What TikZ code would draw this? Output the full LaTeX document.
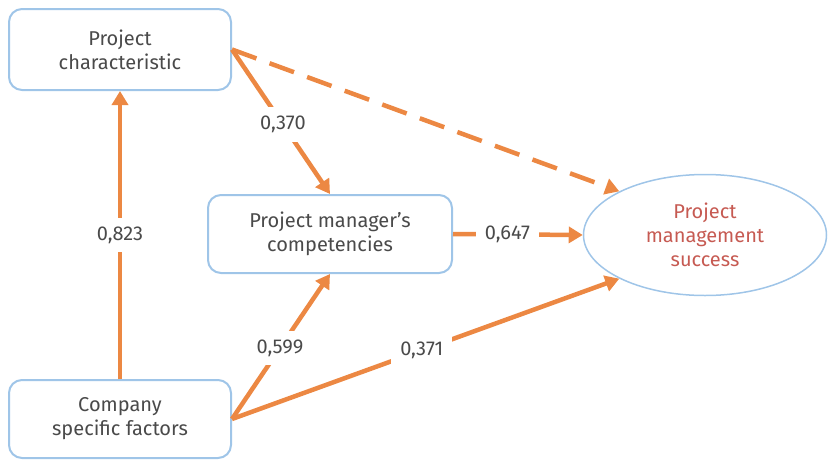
\documentclass[tikz,border=0pt]{standalone}
\usepackage{fontspec}
\setmainfont{Fira Sans}
\usetikzlibrary{arrows.meta,shapes.geometric}
\definecolor{linkorange}{HTML}{EC8843}
\definecolor{boxblue}{HTML}{9FC5E8}
\definecolor{txtgray}{HTML}{4A4A4A}
\definecolor{txtred}{HTML}{C65A52}
\tikzset{box/.style = {draw=boxblue, line width=2pt, rounded corners=13pt, fill=white,
                       align=center, text=txtgray, font=\fontsize{20}{24}\selectfont}}
\tikzset{link/.style = {draw=linkorange, line width=4.5pt, -{Triangle[length=14pt,width=16pt]}}}
\tikzset{lbl/.style = {fill=white, inner sep=9pt, text=txtgray, font=\fontsize{20}{24}\selectfont}}

\begin{document}
\begin{tikzpicture}[x=1pt,y=-1pt]
                    \useasboundingbox (0,0) rectangle (828,461);
                    \node[box, minimum width=222pt, minimum height=81pt] (pc) at (120,49.5) {Project\\characteristic};
                    \node[box, minimum width=244pt, minimum height=78pt] (pmc) at (330,234) {Project manager’s\\competencies};
                    \node[box, minimum width=222pt, minimum height=78pt] (csf) at (120,419) {Company\\specific factors};
                    \node[ellipse, draw=boxblue, line width=1.5pt, minimum width=243pt, minimum height=121pt,
                          align=center, text=txtred, font=\fontsize{20}{24}\selectfont] (pms) at (705,235)
                          {Project\\management\\success};

                    % company factors up to characteristic
                    \draw [link] (csf.north) -- (pc.south) node[lbl, pos=0.5] (l823) {0,823};

                    % characteristic to competencies
                    \draw [link] (pc.east) -- (pmc.north) node[lbl, pos=0.52] (l370) {0,370};

                    % characteristic to success, dashed
                    \draw [link, dash pattern=on 26pt off 14pt] (pc.east) -- (pms.153);

                    % competencies to success
                    \draw [link] (pmc.east) -- (pms.west) node[lbl, pos=0.42] (l647) {0,647};

                    % company factors to competencies
                    \draw [link] (csf.east) -- (pmc.south) node[lbl, pos=0.49] (l599) {0,599};

                    % company factors to success
                    \draw [link] (csf.east) -- (pms.207) node[lbl, pos=0.49] (l371) {0,371};
                \end{tikzpicture}
\end{document}
